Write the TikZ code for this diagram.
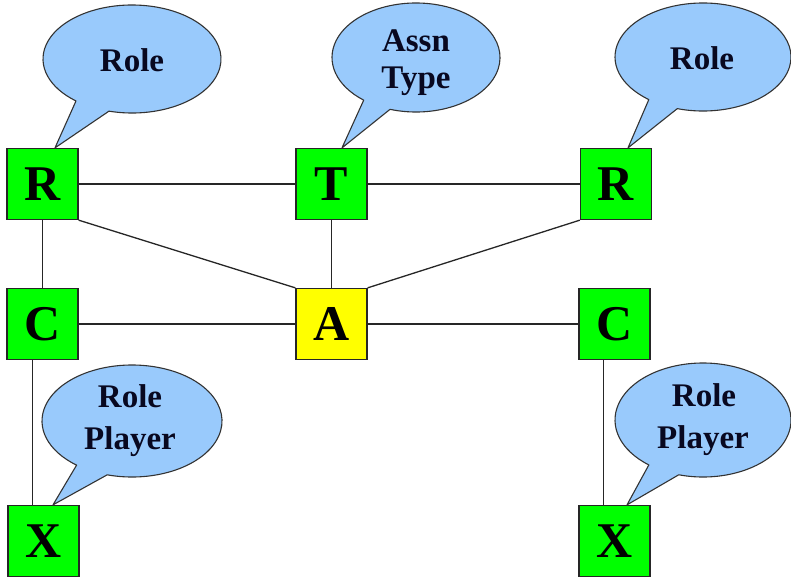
\documentclass[tikz,border=0pt]{standalone}
\usepackage{fontspec}
\setmainfont{Liberation Serif}
\definecolor{boxgreen}{RGB}{0,255,0}
\definecolor{boxyellow}{RGB}{255,255,0}
\definecolor{bubbleblue}{RGB}{153,202,252}
\definecolor{textnavy}{RGB}{8,8,32}
% speech bubble: #1 centre, #2/#3 radii (pt), #4/#5 arc angles, #6 tail tip
\newcommand\speechbubble[6]{%
  \path[bubble] #1 ++(#4:#2pt and #3pt)
    arc[start angle=#4, end angle=#5, x radius=#2pt, y radius=#3pt]
    -- #6 -- cycle;}
\begin{document}
\begin{tikzpicture}[x=1pt,y=-1pt,
  entity/.style={draw=black!85, line width=1.3pt, minimum size=71pt, inner sep=0pt,
    font=\fontsize{50}{50}\selectfont\bfseries},
  rolebox/.style={entity, fill=boxgreen},
  assocbox/.style={entity, fill=boxyellow},
  link/.style={line width=1.3pt, draw=black!85},
  bubble/.style={fill=bubbleblue, draw=black!80, line width=1.1pt, line join=round},
  bubbletext/.style={anchor=base, inner sep=0pt, text=textnavy,
    font=\fontsize{33}{33}\selectfont\bfseries}]
\useasboundingbox (0,0) rectangle (791,578);

% boxes
\node[rolebox]  (Rl) at (42.5,184) {R};
\node[rolebox]  (T)  at (331.5,184) {T};
\node[rolebox]  (Rr) at (616,184) {R};
\node[rolebox]  (Cl) at (42.5,324) {C};
\node[assocbox] (A)  at (331.5,324) {A};
\node[rolebox]  (Cr) at (614.5,324) {C};
\node[rolebox]  (Xl) at (43.5,541) {X};
\node[rolebox]  (Xr) at (614.5,541) {X};

% connectors
\draw[link] (Rl) -- (T);
\draw[link] (T) -- (Rr);
\draw[link] (Rl.south east) -- (A.north west);
\draw[link] (Rr.south west) -- (A.north east);
\draw[link] (T) -- (A);
\draw[link] (Rl) -- (Cl);
\draw[link] (Cl) -- (A);
\draw[link] (A) -- (Cr);
\draw[link] ([xshift=-10pt]Cl.south) -- ([xshift=-10pt]Cl.south |- Xl.north);
\draw[link] ([xshift=-11pt]Cr.south) -- ([xshift=-11pt]Cr.south |- Xr.north);

% callouts
\speechbubble{(132,59)}{89}{54}{255}{591}{([xshift=12.5pt]Rl.north)}
\speechbubble{(416,57.5)}{84}{54.5}{252}{591.5}{([xshift=10.5pt]T.north)}
\speechbubble{(703,57)}{88}{54}{253}{592}{([xshift=12pt]Rr.north)}
\speechbubble{(132,421)}{90}{56}{254}{592}{([xshift=9.5pt]Xl.north)}
\speechbubble{(703,420)}{88}{57}{254}{592}{([xshift=12.5pt]Xr.north)}

\node[bubbletext] (roleA)  at (132,71)  {Role};
\node[bubbletext] (assn)   at (416,52)  {Assn};
\node[bubbletext] (atype)  at (416,88)  {Type};
\node[bubbletext] (roleB)  at (702,70)  {Role};
\node[bubbletext] (roleC)  at (130,407) {Role};
\node[bubbletext] (playC)  at (130,449) {Player};
\node[bubbletext] (roleD)  at (704,406) {Role};
\node[bubbletext] (playD)  at (703,448) {Player};
\end{tikzpicture}
\end{document}
